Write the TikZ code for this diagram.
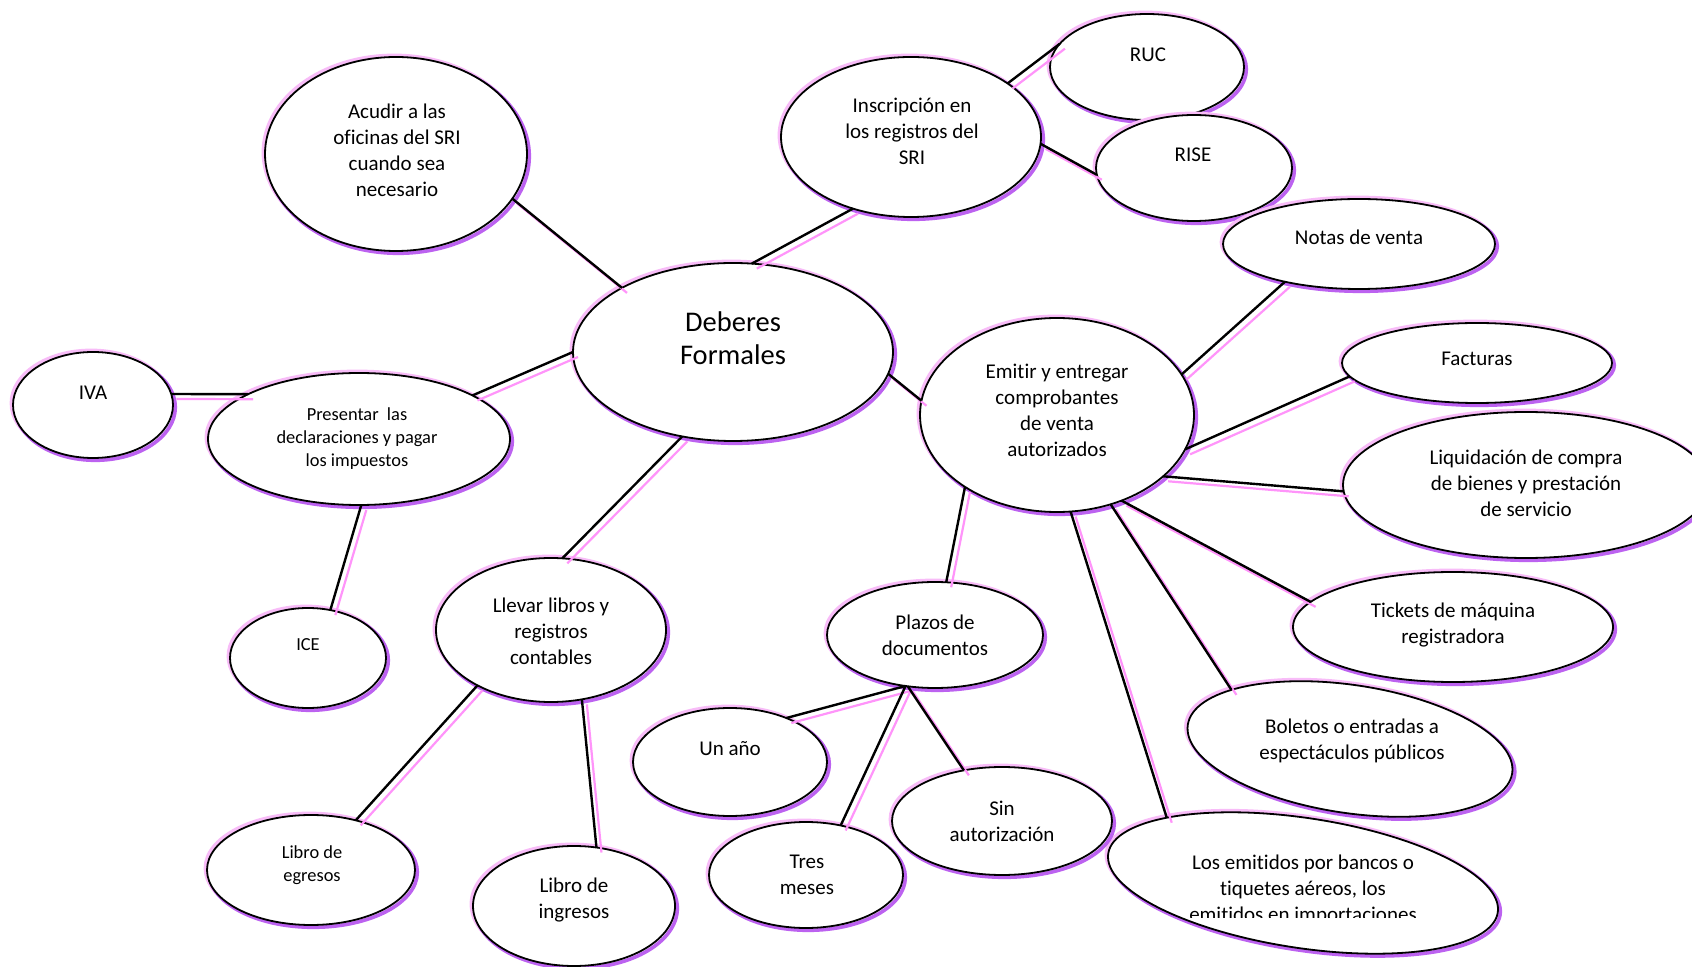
\documentclass[tikz,border=0pt]{standalone}
\usepackage{fontspec}
\setmainfont{Carlito}[Ligatures=NoCommon]
\usetikzlibrary{shapes.geometric}
\definecolor{shpurple}{RGB}{188,98,240}
\definecolor{glowpink}{RGB}{248,188,248}
\definecolor{pinkline}{RGB}{255,148,250}
\begin{document}
\begin{tikzpicture}[x=0.5pt,y=-0.5pt,
  bub/.style={ellipse, draw=black, line width=0.9pt, fill=white, inner sep=0pt, outer sep=0pt,
    preaction={draw=glowpink, fill=none, line width=1.6pt, transform canvas={xshift=-0.9pt,yshift=0.9pt}},
    preaction={draw=shpurple, fill=none, line width=1.8pt, transform canvas={xshift=1.15pt,yshift=-1.15pt}}},
  txt/.style={align=center, inner sep=0pt, font=\fontsize{10.5}{13}\selectfont},
  stxt/.style={align=center, inner sep=0pt, font=\fontsize{9.2}{11.5}\selectfont},
  btxt/.style={align=center, inner sep=0pt, font=\fontsize{14.25}{16.75}\selectfont},
  link/.style={draw=black, line width=1.2pt,
    preaction={draw=pinkline, line width=1.1pt, transform canvas={xshift=2.5pt,yshift=-2.5pt}}}
]
\useasboundingbox (0,0) rectangle (1692,967);
\fill[white] (0,0) rectangle (1692,967);

% ellipses
\node[bub, minimum width=131pt, minimum height=97pt] (acu) at (396,154) {};
\node[bub, minimum width=160pt, minimum height=89pt] (deb) at (733,352) {};
\node[bub, minimum width=130pt, minimum height=80pt] (ins) at (911,137) {};
\node[bub, minimum width=97pt, minimum height=53pt] (ruc) at (1147,67) {};
\node[bub, minimum width=98pt, minimum height=53pt] (rise) at (1194,168) {};
\node[bub, minimum width=136pt, minimum height=45pt] (notas) at (1359,244) {};
\node[bub, minimum width=135pt, minimum height=40pt] (fact) at (1477,363) {};
\node[bub, minimum width=183pt, minimum height=73pt] (liq) at (1526,485) {};
\node[bub, minimum width=160pt, minimum height=55pt] (tick) at (1453,627) {};
\node[bub, rotate=-8.5, minimum width=164pt, minimum height=64pt] (bol) at (1350,749) {};
\node[bub, rotate=-8.6, minimum width=197pt, minimum height=65pt] (emi) at (1303,883) {};
\node[bub, minimum width=137pt, minimum height=97pt] (emit) at (1057,415) {};
\node[bub, minimum width=108pt, minimum height=53pt] (plaz) at (935,635) {};
\node[bub, minimum width=97pt, minimum height=54pt] (unano) at (730,762) {};
\node[bub, minimum width=97pt, minimum height=53pt] (tres) at (806,875) {};
\node[bub, minimum width=110pt, minimum height=54pt] (sin) at (1002,821) {};
\node[bub, minimum width=115pt, minimum height=72pt] (llev) at (551,630) {};
\node[bub, minimum width=104pt, minimum height=55pt] (egr) at (311,870) {};
\node[bub, minimum width=101pt, minimum height=60pt] (ing) at (574,906) {};
\node[bub, minimum width=78pt, minimum height=50pt] (ice) at (308,658) {};
\node[bub, minimum width=151pt, minimum height=66pt] (pres) at (359,439) {};
\node[bub, minimum width=80pt, minimum height=53pt] (iva) at (93,405) {};

% texts
\node[btxt] (t-deb) at (733,338) {Deberes\\Formales};
\node[txt] (t-acu) at (397,150) {Acudir a las\\oficinas del SRI\\cuando sea\\necesario};
\node[txt] (t-ins) at (912,131) {Inscripción en\\los registros del\\SRI};
\node[txt] (t-ruc) at (1148,55) {RUC};
\node[txt] (t-rise) at (1193,155) {RISE};
\node[txt] (t-notas) at (1359,237) {Notas de venta};
\node[txt] (t-fact) at (1477,359) {Facturas};
\node[txt] (t-liq) at (1526,483) {Liquidación de compra\\de bienes y prestación\\de servicio};
\node[txt] (t-tick) at (1453,625) {Tickets de máquina\\registradora};
\node[txt] (t-bol) at (1352,741) {Boletos o entradas a\\espectáculos públicos};
\begin{scope}
  \clip (1100,830) rectangle (1520,917);
  \node[txt] (t-emi) at (1303,890) {Los emitidos por bancos o\\tiquetes aéreos, los\\emitidos en importaciones};
\end{scope}
\node[txt] (t-emit) at (1057,410) {Emitir y entregar\\comprobantes\\de venta\\autorizados};
\node[txt] (t-plaz) at (935,635) {Plazos de\\documentos};
\node[txt] (t-unano) at (730,749) {Un año};
\node[txt] (t-tres) at (807,875) {Tres\\meses};
\node[txt] (t-sin) at (1002,821) {Sin\\autorización};
\node[txt] (t-llev) at (551,631) {Llevar libros y\\registros\\contables};
\node[stxt] (t-egr) at (312,865) {Libro de\\egresos};
\node[txt] (t-ing) at (574,900) {Libro de\\ingresos};
\node[stxt] (t-ice) at (308,645) {ICE};
\node[stxt] (t-pres) at (357,439) {Presentar\ \ las\\declaraciones y pagar\\los impuestos};
\node[txt] (t-iva) at (93,393) {IVA};

% connectors
\draw[link] (acu.-21) -- (deb.150);
\draw[link] (ins.231) -- (deb.78);
\draw[link] (ins.29) -- (ruc.165);
\draw[link] (ins.-3) -- (rise.184);
\draw[link] (deb.-8) -- (emit.174);
\draw[link] (deb.180) -- (pres.21);
\draw[link] (pres.158) -- (iva.8);
\draw[link] (pres.-88) -- (ice.65);
\draw[link] (deb.239) -- (llev.81);
\draw[link] (llev.217) -- (egr.48);
\draw[link] (llev.-66) -- (ing.69);
\draw[link] (emit.18) -- (notas.207);
\draw[link] (emit.-15) -- (fact.186);
\draw[link] (emit.-30) -- (liq.182);
\draw[link] (emit.-53) -- (tick.170);
\draw[link] (emit.-59) -- (bol.162);
\draw[link] (emit.-82) -- (emi.163);
\draw[link] (emit.218) -- (plaz.78);
\draw[link] (plaz.240) -- (unano.38);
\draw[link] (plaz.240) -- (tres.55);
\draw[link] (plaz.242) -- (sin.127);
\end{tikzpicture}
\end{document}
